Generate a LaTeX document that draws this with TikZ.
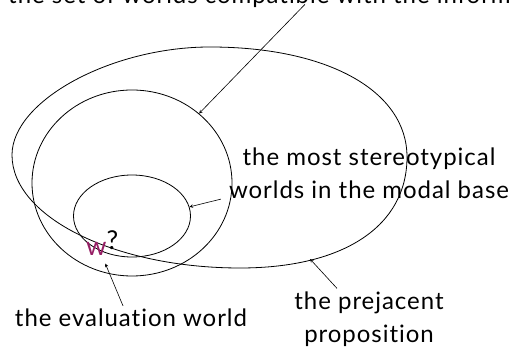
\documentclass[tikz,border=0pt]{standalone}
\usepackage{fontspec}
\setmainfont{Lato}[LetterSpace=4, Ligatures=NoCommon]
\usepackage{xcolor}
\usetikzlibrary{shapes.geometric,positioning}
\definecolor{worldMagenta}{RGB}{150,30,100}
\tikzset{
  setoval/.style={ellipse, draw=black, line width=0.8pt, inner sep=0pt},
  lbl/.style={font=\fontsize{24}{33}\selectfont, align=center, inner sep=0pt},
  pointer/.style={->, >=stealth, line width=0.6pt}
}
\begin{document}
\begin{tikzpicture}[x=1pt,y=1pt]
  \useasboundingbox (0,0) rectangle (518,352);
  \draw[line width=0.8pt] (210,305) .. controls (328,305) and (407,261) .. (407,195)
    .. controls (407,126) and (344,84) .. (240,84)
    .. controls (115,84) and (12,135) .. (12,197)
    .. controls (12,251) and (111,305) .. (210,305) -- cycle;
  \coordinate (pj) at (310,93);
  \node[setoval, minimum width=200pt, minimum height=186pt] (mb) at (132,169) {};
  \node[setoval, minimum width=117pt, minimum height=82pt] (best) at (132,136) {};
  \node[lbl, anchor=base west] (inf) at (8,348) {the set of worlds compatible with the inform};
  \node[lbl] (stereo) at (369,178.5) {the most stereotypical\\worlds in the modal base};
  \node[lbl] (evw) at (131,34) {the evaluation world};
  \node[lbl] (prop) at (369,33) {the prejacent\\proposition};
  \node[font=\fontsize{26}{26}\selectfont, inner sep=0pt, anchor=base west] (w) at (86,96)
    {\textcolor{worldMagenta}{w}\raisebox{6pt}{?}};
  \draw[pointer] ([xshift=297pt,yshift=4pt]inf.south west) -- (mb.46);
  \draw[pointer] ([xshift=-8pt]stereo.south west) -- (best.9);
  \draw[pointer, shorten >=8pt] ([xshift=-8pt,yshift=3pt]evw.north) -- (w.south);
  \draw[pointer] ([xshift=-32pt,yshift=3pt]prop.north) -- (pj);
\end{tikzpicture}
\end{document}
